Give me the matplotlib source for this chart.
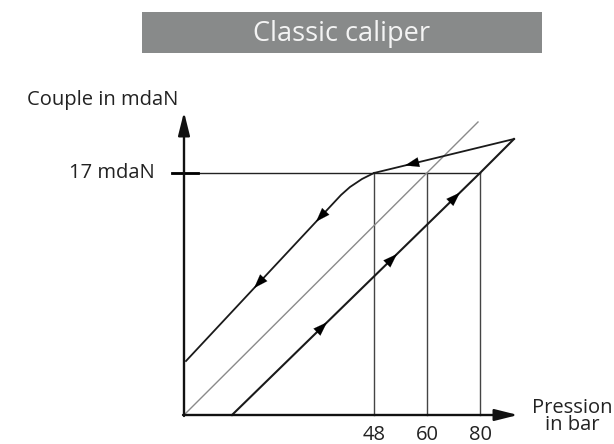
import numpy as np
import matplotlib
matplotlib.use("Agg")
import matplotlib.pyplot as plt
from matplotlib.patches import Rectangle

plt.rcParams['font.family'] = ['Open Sans', 'DejaVu Sans']

# ---- schematic data (diagram units, origin at axes crossing) ----
title = "Classic caliper"
y_label = "Couple in mdaN"
x_label = "Pression\nin bar"
torque_label = "17 mdaN"
tick_labels = ["48", "60", "80"]
tick_pos = [190, 243, 296]          # schematic positions of 48 / 60 / 80 bar
torque_level = 242                  # schematic height of 17 mdaN

ideal_x = [0, 294]
ideal_y = [0, 293]

apply_x = [48, 296, 330]
apply_y = [0, 242, 276]

return_x = [330, 190]
return_y = [276, 242]

release_x = [190, 178, 166, 157, 2]
release_y = [242, 236, 228, 220, 54]

apply_arrow_t = [0.363, 0.645, 0.899]   # fractions along the rising segment
return_arrow_t = [0.73]
release_arrow_t = [0.13, 0.53]          # fractions along the straight falling part

W, H = 614, 444
fig = plt.figure(figsize=(W / 100, H / 100), dpi=100)
ax = fig.add_axes([0, 0, 1, 1])
ax.set_xlim(-184, W - 184)
ax.set_ylim(-(H - 415), 415)
ax.axis('off')

# title banner
fig.add_artist(Rectangle((142 / W, 1 - 53 / H), 400 / W, 41 / H,
                         transform=fig.transFigure, facecolor='#888a8a',
                         edgecolor='none'))
fig.text(342 / W, 1 - 34 / H, title, color='#f4f4f4', fontsize=19.5,
         ha='center', va='center')

# axes with arrows
ax.annotate('', xy=(0, 303), xytext=(0, -1),
            arrowprops=dict(arrowstyle='-|>,head_length=1.4,head_width=0.35',
                            color='#111111', lw=1.7, shrinkA=0, shrinkB=0))
ax.annotate('', xy=(334, 0), xytext=(-1, 0),
            arrowprops=dict(arrowstyle='-|>,head_length=1.4,head_width=0.35',
                            color='#111111', lw=1.7, shrinkA=0, shrinkB=0))

# torque level line and its tick
ax.plot([-12, tick_pos[-1]], [torque_level, torque_level], color='#222222', lw=1.0)
ax.plot([-12, 14], [torque_level, torque_level], color='black', lw=2.0)

# vertical guides
for xp in tick_pos:
    ax.plot([xp, xp], [0, torque_level], color='#444444', lw=1.0)

# ideal (thin grey) line
ax.plot(ideal_x, ideal_y, color='#8a8a8a', lw=1.0)

# hysteresis loop
ax.plot(apply_x, apply_y, color='#1a1a1a', lw=1.5, solid_joinstyle='miter')
ax.plot(return_x, return_y, color='#1a1a1a', lw=1.3)
ax.plot(release_x, release_y, color='#1a1a1a', lw=1.3)


def arrow_on(p0, p1, t):
    p0 = np.array(p0, float)
    p1 = np.array(p1, float)
    d = (p1 - p0) / np.linalg.norm(p1 - p0)
    p = p0 + (p1 - p0) * t
    ax.annotate('', xy=p + d * 7, xytext=p - d * 7,
                arrowprops=dict(arrowstyle='-|>,head_length=1.0,head_width=0.35',
                                color='black', lw=0.1, shrinkA=0, shrinkB=0))


for t in apply_arrow_t:
    arrow_on((apply_x[0], apply_y[0]), (apply_x[1], apply_y[1]), t)
for t in return_arrow_t:
    arrow_on((return_x[0], return_y[0]), (return_x[1], return_y[1]), t)
for t in release_arrow_t:
    arrow_on((release_x[-2], release_y[-2]), (release_x[-1], release_y[-1]), t)

# texts
ax.text(-81, 315, y_label, fontsize=14.5, ha='center', va='center', color='#222222')
ax.text(-29, 242, torque_label, fontsize=14.5, ha='right', va='center', color='#222222')
for xp, lab in zip(tick_pos, tick_labels):
    ax.text(xp, -20, lab, fontsize=14.5, ha='center', va='center', color='#222222')
ax.text(388, -1, x_label, fontsize=14.5, ha='center', va='center',
        color='#222222', linespacing=0.8)

fig.savefig('out.png', dpi=100)
